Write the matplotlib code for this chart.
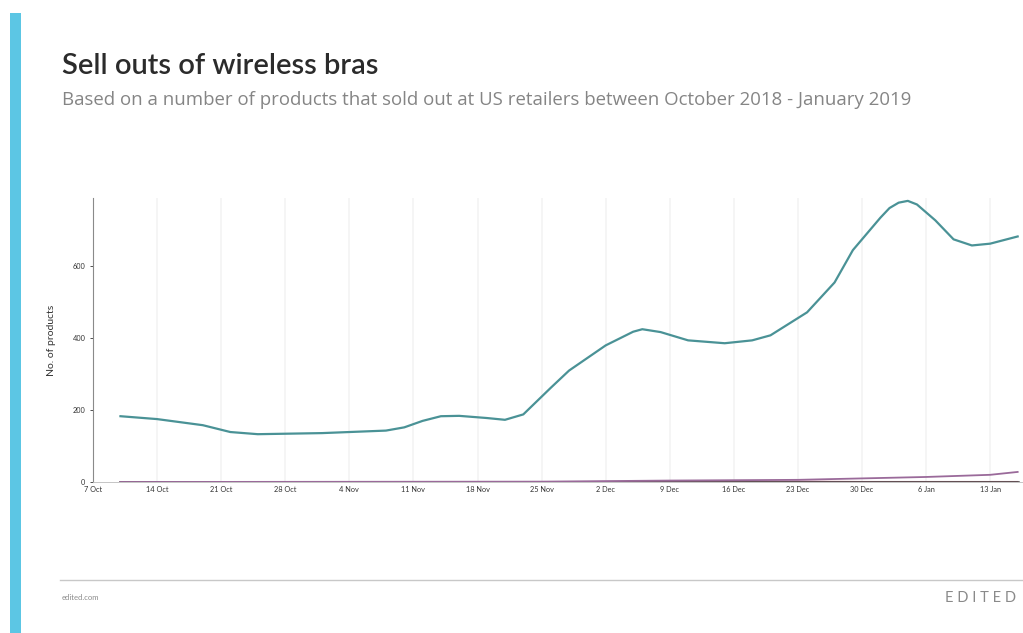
import pandas as pd
import matplotlib
matplotlib.use('Agg')
import matplotlib.pyplot as plt
from matplotlib.lines import Line2D
from matplotlib.patches import Rectangle

plt.rcParams['font.family'] = ['Lato', 'DejaVu Sans']

# data
wireless_dates = ['2018-10-10', '2018-10-14', '2018-10-19', '2018-10-22', '2018-10-25',
                  '2018-11-01', '2018-11-08', '2018-11-10', '2018-11-12', '2018-11-14',
                  '2018-11-16', '2018-11-19', '2018-11-21', '2018-11-23', '2018-11-26',
                  '2018-11-28', '2018-12-02', '2018-12-05', '2018-12-06', '2018-12-08',
                  '2018-12-11', '2018-12-15', '2018-12-18', '2018-12-20', '2018-12-24',
                  '2018-12-27', '2018-12-29', '2019-01-01', '2019-01-02', '2019-01-03',
                  '2019-01-04', '2019-01-05', '2019-01-07', '2019-01-09', '2019-01-11',
                  '2019-01-13', '2019-01-16']
wireless_vals = [183, 175, 158, 139, 133, 136, 143, 152, 170, 183,
                 184, 178, 173, 188, 262, 310, 380, 418, 425, 417,
                 394, 386, 394, 408, 472, 555, 645, 735, 762, 777,
                 782, 772, 728, 675, 658, 663, 683]

other_dates = ['2018-10-10', '2018-11-25', '2018-12-09', '2018-12-23', '2018-12-30',
               '2019-01-06', '2019-01-13', '2019-01-16']
purple_vals = [0, 1, 4, 6, 10, 14, 20, 28]
dark_vals = [0, 0, 0, 0, 0, 0, 0, 0]
pink_vals = [0, 0, 2, 2, 1, 1, 1, 1]

tick_dates = pd.date_range('2018-10-07', '2019-01-13', freq='7D')
tick_labels = ['7 Oct', '14 Oct', '21 Oct', '28 Oct', '4 Nov', '11 Nov', '18 Nov', '25 Nov',
               '2 Dec', '9 Dec', '16 Dec', '23 Dec', '30 Dec', '6 Jan', '13 Jan']
y_ticks = [0, 200, 400, 600]

fig = plt.figure(figsize=(10.23, 6.33), dpi=100)
fig.patch.set_facecolor('white')

# left accent bar
fig.add_artist(Rectangle((10 / 1023, 0), 11 / 1023, 1 - 13 / 633,
                         transform=fig.transFigure, color='#5cc6e4', lw=0))

fig.text(62 / 1023, 1 - 66 / 633, 'Sell outs of wireless bras', fontsize=21,
         color='#2b2b2b', weight='semibold', va='center')
fig.text(62 / 1023, 1 - 100 / 633,
         'Based on a number of products that sold out at US retailers between October 2018 - January 2019',
         fontsize=13.4, color='#858585', va='center', family=['Open Sans', 'DejaVu Sans'])

ax = fig.add_axes([93 / 1023, 1 - 482 / 633, 1 - 93 / 1023, 284 / 633])
x0 = pd.Timestamp('2018-10-07')
x1 = pd.Timestamp('2019-01-16 14:00')
ax.set_xlim(x0, x1)
ax.set_ylim(0, 790)

for d in tick_dates:
    ax.axvline(d, color='#f3f3f3', lw=1.2, zorder=0)

ax.plot(pd.to_datetime(other_dates), pink_vals, color='#d98ca0', lw=1.0, zorder=2)
ax.plot(pd.to_datetime(other_dates), dark_vals, color='#3c3c3c', lw=1.8, zorder=3)
ax.plot(pd.to_datetime(other_dates), purple_vals, color='#9a6a9a', lw=1.3, zorder=4)
ax.plot(pd.to_datetime(wireless_dates), wireless_vals, color='#4a9296', lw=1.6, zorder=5)

ax.set_xticks(tick_dates)
ax.set_xticklabels(tick_labels)
ax.set_yticks(y_ticks)
ax.tick_params(axis='both', labelsize=5.3, colors='#333333', length=2, width=0.6)
ax.tick_params(axis='x', length=0, pad=3)
for s in ['top', 'right']:
    ax.spines[s].set_visible(False)
ax.spines['left'].set_color('#8a8a8a')
ax.spines['bottom'].set_color('#bbbbbb')
ax.spines['left'].set_linewidth(0.8)
ax.spines['bottom'].set_linewidth(0.6)
ax.set_ylabel('No. of products', fontsize=7.5, color='#333333', labelpad=12)

# footer
fig.add_artist(Line2D([60 / 1023, 1], [1 - 580 / 633, 1 - 580 / 633],
                      transform=fig.transFigure, color='#c8c8c8', lw=1))
fig.text(62 / 1023, 1 - 598 / 633, 'edited.com', fontsize=5.5, color='#8a8a8a', va='center')
fig.text(1016 / 1023, 1 - 598 / 633, 'E D I T E D', fontsize=10.5, color='#8a8a8a',
         va='center', ha='right')

fig.savefig('out.png', dpi=100)
